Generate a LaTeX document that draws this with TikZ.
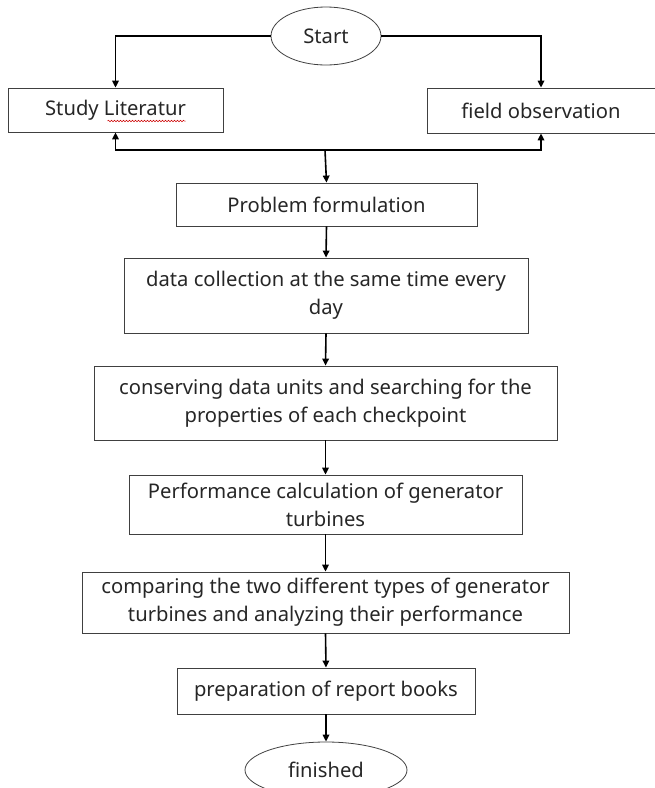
\documentclass[tikz,border=0pt]{standalone}
\usepackage{fontspec}
\setmainfont{Noto Sans}
\usepackage{tikz}
\usetikzlibrary{arrows.meta, calc, shapes.geometric, decorations.pathmorphing}

\begin{document}
\begin{tikzpicture}[x=1pt, y=-1pt, >={Triangle[length=7pt, width=6.5pt]},
  font=\fontsize{20.2}{28}\selectfont,
  box/.style={draw=black!75, line width=0.8pt, align=center, inner sep=1pt, text=black!85},
  term/.style={ellipse, draw=black!75, line width=0.8pt, inner sep=0pt, text=black!85},
  flow/.style={->, line width=1.6pt}]
  \useasboundingbox (0,0) rectangle (655,788);
  % 开始
  \node[term, minimum width=110, minimum height=58] (start) at (326,36) {Start};
  \node[box, minimum width=215, minimum height=44] (study) at (115.5,110) {Study Literatur};
  \node[box, minimum width=228, minimum height=45] (field) at (541,110.5) {field observation};
  \coordinate (split) at (325,150);
  % 主流程
  \node[box, minimum width=301, minimum height=43] (problem) at (326.5,204.5) {Problem formulation};
  \node[box, minimum width=404, minimum height=75] (data) at (326,295.5) {data collection at the same time every\\ day};
  \node[box, minimum width=463, minimum height=74] (conserve) at (325.5,403) {conserving data units and searching for the\\ properties of each checkpoint};
  \node[box, minimum width=393, minimum height=59] (perf) at (325.5,504.5) {Performance calculation of generator\\ turbines};
  \node[box, minimum width=487, minimum height=61] (compare) at (325.5,602.5) {comparing the two different types of generator\\ turbines and analyzing their performance};
  \node[box, minimum width=298, minimum height=46] (report) at (326,691) {preparation of report books};
  \node[term, minimum width=162, minimum height=56] (finish) at (326,770) {finished};
  % 连线
  \draw[flow] (start.west) -| (study.north);
  \draw[flow] (start.east) -| (field.north);
  \draw[flow] (split) -| (study.south);
  \draw[flow] (split) -| (field.south);
  \draw[flow] (split) -- (problem.north);
  \foreach \a/\b in {problem/data, data/conserve, conserve/perf, perf/compare, compare/report, report/finish}
    \draw[flow] (\a.south) -- (\b.north);
  % 拼写检查波浪线
  \draw[red!80!black, line width=0.5pt, decorate, decoration={snake, amplitude=0.8pt, segment length=3pt}]
    ($(study.center)+(-8,11)$) -- ($(study.center)+(70,11)$);
\end{tikzpicture}
\end{document}
